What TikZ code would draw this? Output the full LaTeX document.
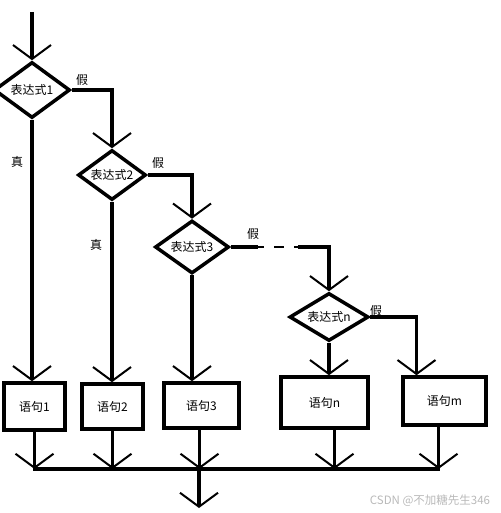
\documentclass[tikz,border=0pt]{standalone}
\usepackage{fontspec}
\newfontfamily\cjk{Noto Sans CJK SC}
\usepackage{tikz}
\usetikzlibrary{shapes.geometric}
\usetikzlibrary{arrows.meta}

\begin{document}
\begin{tikzpicture}[x=1,y=-1, line width=3.5pt,
  cond/.style={diamond, draw, aspect=1.5, inner sep=0pt, font=\cjk\fontsize{12}{14}\selectfont},
  stmt/.style={rectangle, draw, inner sep=0pt, font=\cjk\fontsize{12}{14}\selectfont},
  lbl/.style={font=\cjk\fontsize{12}{14}\selectfont},
  arr/.style={-{Straight Barb[length=14pt,width=38pt,line width=2pt]}}]
\useasboundingbox (0,0) rectangle (500,513);

\node[cond, minimum width=76, minimum height=56] (d1) at (32,90) {表达式1};
\node[cond, minimum width=68, minimum height=50] (d2) at (112,175) {表达式2};
\node[cond, minimum width=74, minimum height=53] (d3) at (192,247) {表达式3};
\node[cond, minimum width=79, minimum height=48] (dn) at (329,317) {表达式n};

\node[stmt, minimum width=61, minimum height=47] (b1) at (34.5,406.5) {语句1};
\node[stmt, minimum width=61, minimum height=45] (b2) at (112.5,406.5) {语句2};
\node[stmt, minimum width=75, minimum height=45] (b3) at (201.5,405.5) {语句3};
\node[stmt, minimum width=87, minimum height=51] (bn) at (324.5,402.5) {语句n};
\node[stmt, minimum width=83, minimum height=48] (bm) at (444.5,401) {语句m};

\node[lbl] (f1) at (82,80) {假};
\node[lbl] (f2) at (158,163) {假};
\node[lbl] (f3) at (253,234) {假};
\node[lbl] (fn) at (376,311) {假};
\node[lbl] (t1) at (17,162) {真};
\node[lbl] (t2) at (96,245) {真};

\coordinate (in) at (32,12);
\coordinate (g1) at (258,247);
\coordinate (g2) at (298,247);
\coordinate (barL) at (33,469);
\coordinate (barR) at (440,469);
\coordinate (out) at (199,508);

\path[arr, draw] (in) -- (d1.north);
\path[arr, draw] (d1.east) -| (d2.north);
\path[arr, draw] (d2.east) -| (d3.north);
\path[draw] (d3.east) -- (g1);
\path[draw, line width=2pt, dash pattern=on 6pt off 10pt on 10pt off 10pt] (g1) -- (g2);
\path[arr, draw] (g2) -| (dn.north);
\path[arr, draw] (dn.east) -| ([xshift=-28]bm.north);

\path[arr, draw] (d1.south) -- (d1.south |- b1.north);
\path[arr, draw] (d2.south) -- (d2.south |- b2.north);
\path[arr, draw] (d3.south) -- (d3.south |- b3.north);
\path[arr, draw] (dn.south) -- (dn.south |- bn.north);

\path[draw] (barL) -- (barR);
\path[arr, draw] (b1.south) -- (b1.south |- barL);
\path[arr, draw] (b2.south) -- (b2.south |- barL);
\path[arr, draw] ([xshift=-2]b3.south) -- ([xshift=-2]b3.south |- barL);
\path[arr, draw] ([xshift=10]bn.south) -- ([xshift=10]bn.south |- barL);
\path[arr, draw] ([xshift=-6]bm.south) -- ([xshift=-6]bm.south |- barL);
\path[arr, draw] (out |- barL) -- (out);

\node[font=\cjk\fontsize{11.5}{13}\selectfont, text=gray!55] (wm) at (430,501) {CSDN @不加糖先生346};
\end{tikzpicture}
\end{document}
